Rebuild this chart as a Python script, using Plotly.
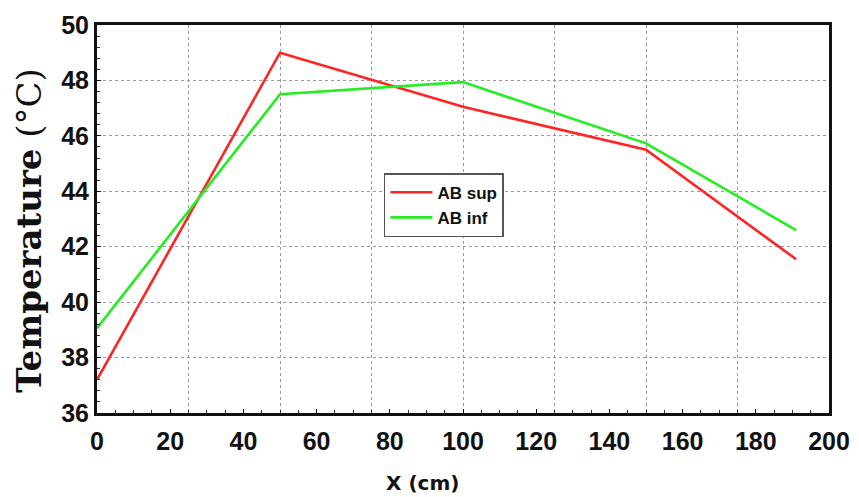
import plotly.graph_objects as go

x_pos = [0, 50, 100, 150, 191]
ab_sup = [37.2, 49.0, 47.05, 45.5, 41.55]
ab_inf = [39.06, 47.5, 47.94, 45.73, 42.6]
x_ticks = [0, 20, 40, 60, 80, 100, 120, 140, 160, 180, 200]
x_grid = [25, 50, 75, 100, 125, 150, 175]
y_ticks = [36, 38, 40, 42, 44, 46, 48, 50]

fig = go.Figure()
fig.add_trace(go.Scatter(x=x_pos, y=ab_sup, mode="lines", name="AB sup",
                         line=dict(color="#ff2424", width=2.6)))
fig.add_trace(go.Scatter(x=x_pos, y=ab_inf, mode="lines", name="AB inf",
                         line=dict(color="#22ee22", width=2.6)))
# invisible trace on overlay axis to carry the 25-step grid
fig.add_trace(go.Scatter(x=[0, 200], y=[36, 36], xaxis="x2", mode="lines",
                         line=dict(width=0), showlegend=False, hoverinfo="skip"))

sans = "Liberation Sans, Arial, sans-serif"
fig.update_layout(
    width=851, height=489,
    margin=dict(l=89, r=30, t=17, b=84),
    paper_bgcolor="white", plot_bgcolor="white",
    showlegend=True,
    legend=dict(x=0.392, y=0.618, xanchor="left", yanchor="top",
                bgcolor="white", bordercolor="#555", borderwidth=1.5,
                font=dict(family=sans, size=17, color="#111", weight="bold"),
                tracegroupgap=0, itemwidth=42),
    xaxis=dict(range=[0, 200], tickvals=x_ticks, ticktext=[str(v) for v in x_ticks],
               showgrid=False, zeroline=False, automargin=False,
               showline=True, linecolor="#111", linewidth=3, mirror=True,
               ticks="inside", ticklen=4, tickcolor="#111", ticklabelstandoff=4,
               minor=dict(ticks="inside", ticklen=3, dtick=5, tickcolor="#333"),
               tickfont=dict(family=sans, size=25, color="#111", weight="bold")),
    xaxis2=dict(range=[0, 200], overlaying="x", side="bottom", tickvals=x_grid,
                showticklabels=False, showgrid=True, gridcolor="#999", griddash="dot", gridwidth=1.3,
                zeroline=False, showline=False, ticks="", automargin=False),
    yaxis=dict(range=[36, 50], tickvals=y_ticks, showgrid=True, gridcolor="#999",
               griddash="dot", gridwidth=1.3, zeroline=False, automargin=False,
               showline=True, linecolor="#111", linewidth=3, mirror=True,
               ticks="inside", ticklen=4, tickcolor="#111",
               minor=dict(ticks="inside", ticklen=3, dtick=0.4, tickcolor="#333"),
               tickfont=dict(family=sans, size=25, color="#111", weight="bold")),
    annotations=[
        dict(text="<b>Temperature</b> (°C)", textangle=-90, xref="paper", yref="paper",
             x=-0.094, y=0.47, xanchor="center", yanchor="middle", showarrow=False,
             font=dict(family="DejaVu Serif, serif", size=34, color="#111")),
        dict(text="<b>X (cm)</b>", xref="paper", yref="paper",
             x=0.445, y=-0.18, xanchor="center", yanchor="middle", showarrow=False,
             font=dict(family="DejaVu Sans, Verdana, sans-serif", size=20, color="#111")),
    ],
)

fig.write_html("out.html")
